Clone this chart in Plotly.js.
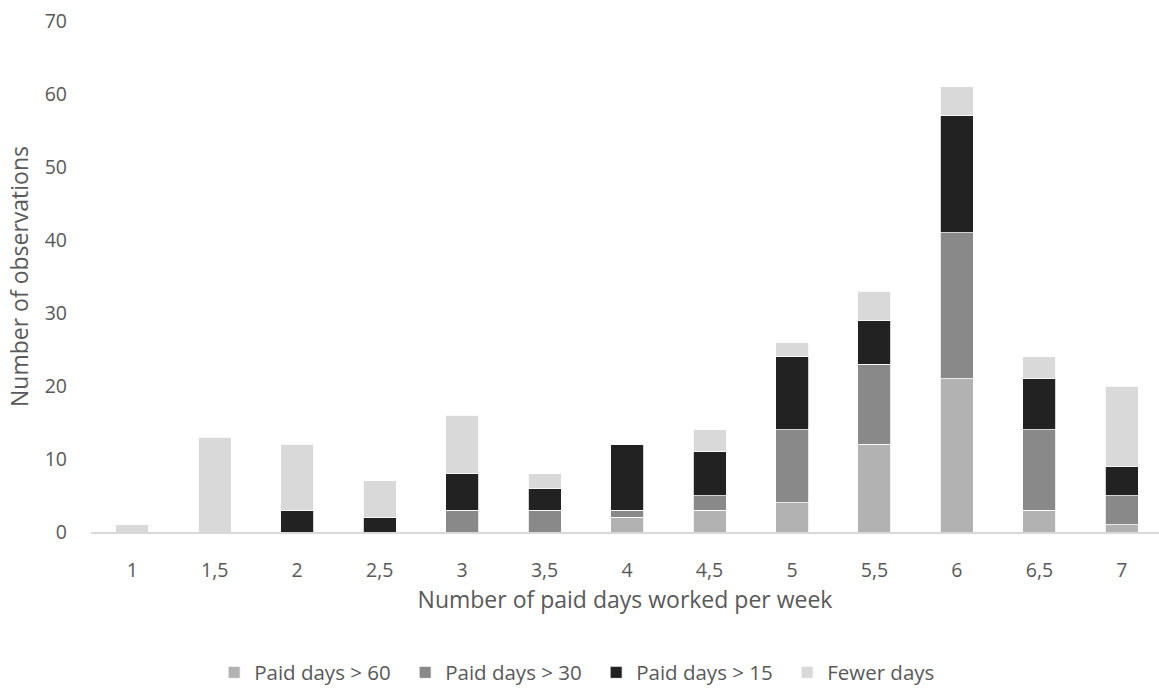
<!DOCTYPE html>
<html>
<head>
<meta charset="utf-8">
<script src="https://cdn.plot.ly/plotly-3.0.1.min.js"></script>
<style>html,body{margin:0;padding:0;background:#fff;}#chart{width:1159px;height:693px;}</style>
</head>
<body>
<div id="chart"></div>
<script>
const categories = ["1","1,5","2","2,5","3","3,5","4","4,5","5","5,5","6","6,5","7"];
const paid60 = [0,0,0,0,0,0,2,3,4,12,21,3,1];
const paid30 = [0,0,0,0,3,3,1,2,10,11,20,11,4];
const paid15 = [0,0,3,2,5,3,9,6,10,6,16,7,4];
const fewer  = [1,13,9,5,8,2,0,3,2,4,4,3,11];
const seriesNames = ["Paid days > 60","Paid days > 30","Paid days > 15","Fewer days"];
const seriesColors = ["#b2b2b2","#898989","#222222","#d9d9d9"];
const seriesData = [paid60, paid30, paid15, fewer];

const traces = seriesData.map((d,i)=>({
  type:"bar", x:categories, y:d, name:seriesNames[i],
  marker:{color:seriesColors[i], line:{color:"#ffffff", width:0.8}},
  hoverinfo:"x+y+name"
}));

const layout = {
  width:1159, height:693,
  barmode:"stack", bargap:0.6,
  margin:{l:91, r:0, t:21, b:152},
  paper_bgcolor:"#fff", plot_bgcolor:"#fff",
  font:{family:"Open Sans, sans-serif", size:19.5, color:"#595959"},
  xaxis:{
    type:"category", range:[-0.5, 12.45], showgrid:false, zeroline:false,
    showline:true, linecolor:"#d9d9d9", linewidth:2,
    ticks:"", tickfont:{size:19.5, color:"#595959"}, ticklabelstandoff:20,
    title:{text:"Number of paid days worked per week", font:{size:23, color:"#595959"}, standoff:6}
  },
  yaxis:{
    range:[0,70], dtick:10, showgrid:false, zeroline:false, showline:false,
    ticks:"", tickfont:{size:19.5, color:"#595959"}, ticklabelstandoff:23,
    title:{text:"Number of observations", font:{size:23, color:"#595959"}, standoff:9}
  },
  showlegend:true,
  legend:{orientation:"h", x:0.473, xanchor:"center", y:-0.275, yanchor:"middle",
    font:{size:20.5, color:"#595959"}, traceorder:"normal", itemwidth:30,
    entrywidth:146, entrywidthmode:"pixels"}
};
Plotly.newPlot("chart", traces, layout, {displayModeBar:false, staticPlot:true});
</script>
</body>
</html>
